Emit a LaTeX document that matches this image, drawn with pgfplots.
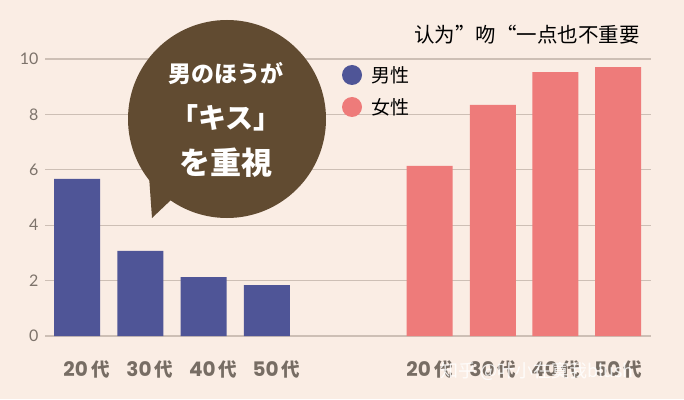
\documentclass[border=0pt]{standalone}
\usepackage{pgfplots}
\pgfplotsset{compat=1.18}
\usepackage{fontspec}
\setmainfont{Noto Sans CJK JP}
\newfontfamily\scfont{Noto Sans CJK SC}
\newfontfamily\popfont{Poppins}
\newfontfamily\latofont{Lato}
\definecolor{bg}{HTML}{FAEDE4}
\definecolor{male}{HTML}{4F5597}
\definecolor{female}{HTML}{EE7B7A}
\definecolor{gridc}{HTML}{CDBFB5}
\definecolor{tickc}{HTML}{7D736B}
\definecolor{xlab}{HTML}{776D64}
\definecolor{bubble}{HTML}{614B31}
\newcommand{\xl}[1]{{\popfont\fontsize{20}{20}\selectfont\bfseries #1}\,代}
\begin{document}
\begin{tikzpicture}
\fill[bg] (-45pt,-63pt) rectangle (639pt,336pt);
\begin{axis}[
  scale only axis, width=606pt, height=277pt,
  xmin=-0.506, xmax=9.07, ymin=0, ymax=10,
  axis x line*=bottom, axis y line*=left,
  axis line style={draw=none},
  major tick length=0pt,
  ytick={0,2,4,6,8,10},
  /pgf/number format/assume math mode=true,
  ymajorgrids, grid style={color=gridc, line width=1.3pt},
  yticklabel style={font=\latofont\fontsize{16}{16}\selectfont, text=tickc, xshift=-3pt},
  xtick={0.15,1.15,2.15,3.15,5.57,6.57,7.56,8.55},
  xticklabels={\xl{20},\xl{30},\xl{40},\xl{50},\xl{20},\xl{30},\xl{40},\xl{50}},
  xticklabel style={font=\fontsize{18.5}{18.5}\selectfont\bfseries, text=xlab, yshift=-21pt},
  bar width=46pt,
]
\addplot[ybar, bar shift=0pt, fill=male, draw=none] coordinates {(0,5.67) (1,3.07) (2,2.13) (3,1.84)};
\addplot[ybar, bar shift=0pt, fill=female, draw=none] coordinates {(5.57,6.14) (6.57,8.34) (7.56,9.53) (8.55,9.71)};
\end{axis}
% speech bubble
\fill[bubble] (182pt,217pt) circle (99pt);
\fill[bubble] (104pt,160pt) -- (107pt,118pt) -- (127pt,137pt) -- cycle;
\node[text=white, font=\fontsize{23}{23}\selectfont\bfseries] at (181pt,263pt) {男のほうが};
\node[text=white, font=\fontsize{28}{28}\selectfont\bfseries] at (181pt,218pt) {「キス」};
\node[text=white, font=\fontsize{31}{31}\selectfont\bfseries] at (181pt,173pt) {を重視};
% legend
\fill[male] (307pt,261pt) circle (10pt);
\fill[female] (307pt,229pt) circle (10pt);
\node[anchor=west, font=\fontsize{19}{19}\selectfont, inner sep=0pt] at (326pt,261pt) {男性};
\node[anchor=west, font=\fontsize{19}{19}\selectfont, inner sep=0pt] at (326pt,229pt) {女性};
% title
\node[anchor=west, font=\scfont\fontsize{20.5}{20.5}\selectfont, inner sep=0pt] at (369pt,301pt) {认为”吻“一点也不重要};
% watermark
\node[anchor=west, text=white, opacity=0.85, font=\scfont\fontsize{18}{18}\selectfont, inner sep=0pt] at (395pt,-35pt) {知乎 @叶小在寞我blush};
\pgfresetboundingbox
\path[use as bounding box] (-45pt,-63pt) rectangle (639pt,336pt);
\end{tikzpicture}
\end{document}
